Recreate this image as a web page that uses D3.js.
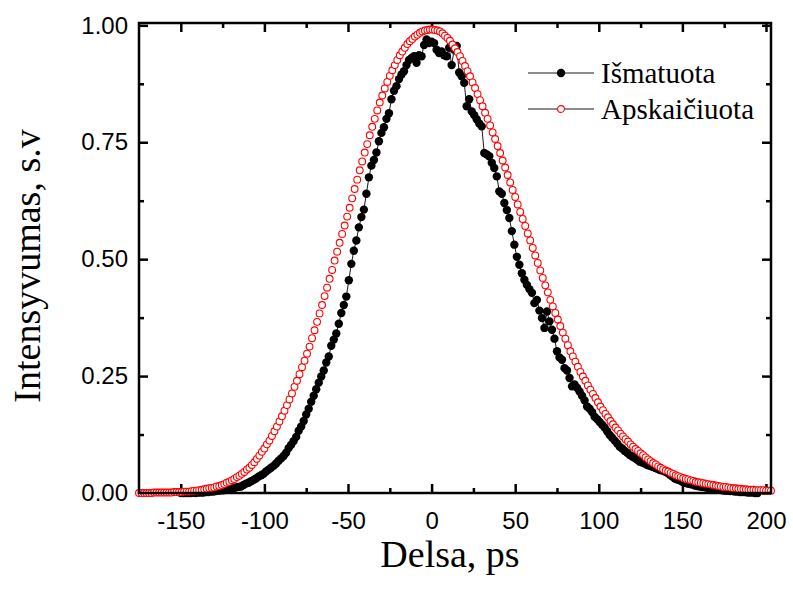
<!DOCTYPE html>
<meta charset="utf-8">
<style>
    body { margin: 0; background: #fff; }
    .axis text {
        font: 24px "Liberation Sans", Arial, sans-serif;
        fill: #000;
    }
    .axis line { stroke: #000; stroke-width: 2.5; }
    .axis path { display: none; }
    .title {
        font: 38px "Liberation Serif", "Times New Roman", serif;
        fill: #000;
    }
    .legend text {
        font: 29px "Liberation Serif", "Times New Roman", serif;
        fill: #000;
    }
</style>
<body></body>
<script src="https://cdn.jsdelivr.net/npm/d3@7/dist/d3.min.js"></script>
<script>
    // Apskaiciuota (calculated) - x grid starts at -175 ps, step 1.5 ps
    var calcStart = -175, calcStep = 1.5;
    var apskaiciuota = [
        0.000,0.000,0.000,0.000, 0.000,0.000,0.001,0.001, 0.001,0.001,0.001,0.001,
        0.001,0.001,0.002,0.002, 0.002,0.002,0.003,0.003, 0.003,0.004,0.005,0.005,
        0.006,0.007,0.008,0.009, 0.010,0.011,0.012,0.014, 0.015,0.017,0.019,0.022,
        0.024,0.027,0.030,0.034, 0.037,0.041,0.045,0.050, 0.054,0.060,0.066,0.073,
        0.080,0.088,0.095,0.104, 0.112,0.122,0.132,0.142, 0.153,0.164,0.176,0.188,
        0.200,0.213,0.227,0.240, 0.254,0.269,0.283,0.298, 0.313,0.331,0.348,0.366,
        0.384,0.402,0.421,0.439, 0.458,0.477,0.497,0.516, 0.535,0.554,0.572,0.591,
        0.610,0.630,0.650,0.670, 0.690,0.709,0.728,0.746, 0.765,0.783,0.800,0.818,
        0.835,0.850,0.865,0.879, 0.892,0.904,0.915,0.926, 0.936,0.944,0.952,0.960,
        0.966,0.971,0.976,0.980, 0.984,0.987,0.989,0.990, 0.991,0.991,0.990,0.989,
        0.987,0.983,0.978,0.973, 0.967,0.959,0.951,0.943, 0.934,0.924,0.913,0.902,
        0.891,0.878,0.866,0.853, 0.840,0.827,0.813,0.800, 0.786,0.771,0.757,0.742,
        0.727,0.711,0.696,0.680, 0.664,0.648,0.633,0.617, 0.601,0.586,0.571,0.555,
        0.540,0.524,0.508,0.492, 0.476,0.460,0.444,0.429, 0.413,0.399,0.385,0.371,
        0.357,0.343,0.330,0.316, 0.303,0.292,0.281,0.270, 0.259,0.249,0.240,0.230,
        0.221,0.212,0.203,0.194, 0.185,0.177,0.169,0.162, 0.154,0.147,0.140,0.134,
        0.127,0.121,0.115,0.110, 0.104,0.099,0.094,0.090, 0.085,0.081,0.076,0.072,
        0.068,0.064,0.061,0.057, 0.054,0.051,0.048,0.046, 0.043,0.041,0.038,0.036,
        0.034,0.032,0.030,0.029, 0.027,0.026,0.024,0.023, 0.022,0.021,0.020,0.019,
        0.018,0.017,0.016,0.015, 0.014,0.013,0.013,0.012, 0.011,0.010,0.010,0.009,
        0.009,0.008,0.008,0.007, 0.007,0.007,0.006,0.006, 0.006,0.006,0.005,0.005,
        0.005
    ];

    // Ismatuota (measured) - x grid starts at -150 ps, step 1.5 ps
    var measStart = -150, measStep = 1.5;
    var ismatuota = [
        0.000,0.000,0.000,0.000, 0.000,0.001,0.000,0.001, 0.001,0.001,0.002,0.002,
        0.003,0.003,0.004,0.005, 0.006,0.006,0.007,0.008, 0.009,0.010,0.012,0.013,
        0.014,0.017,0.020,0.022, 0.025,0.028,0.031,0.035, 0.038,0.041,0.046,0.050,
        0.054,0.058,0.063,0.069, 0.074,0.079,0.086,0.096, 0.103,0.111,0.120,0.133,
        0.142,0.154,0.168,0.180, 0.195,0.208,0.222,0.236, 0.249,0.262,0.279,0.292,
        0.315,0.328,0.341,0.362, 0.385,0.402,0.420,0.455, 0.490,0.518,0.540,0.568,
        0.590,0.606,0.640,0.675, 0.700,0.712,0.728,0.752, 0.770,0.782,0.800,0.812,
        0.842,0.860,0.870,0.885, 0.895,0.902,0.915,0.926, 0.930,0.934,0.920,0.936,
        0.934,0.958,0.970,0.962, 0.965,0.962,0.948,0.941, 0.944,0.936,0.934,0.952,
        0.915,0.948,0.956,0.899, 0.891,0.877,0.827,0.842, 0.816,0.808,0.799,0.790,
        0.784,0.727,0.724,0.720, 0.706,0.695,0.677,0.645, 0.640,0.620,0.605,0.588,
        0.560,0.531,0.505,0.488, 0.470,0.456,0.445,0.436, 0.428,0.406,0.413,0.390,
        0.374,0.353,0.388,0.367, 0.349,0.330,0.303,0.290, 0.285,0.267,0.262,0.246,
        0.228,0.232,0.225,0.217, 0.208,0.198,0.185,0.180, 0.173,0.163,0.158,0.152,
        0.146,0.140,0.132,0.124, 0.118,0.112,0.106,0.099, 0.095,0.090,0.086,0.081,
        0.078,0.075,0.071,0.067, 0.065,0.063,0.060,0.058, 0.056,0.054,0.052,0.049,
        0.048,0.046,0.043,0.039, 0.035,0.031,0.029,0.027, 0.024,0.022,0.020,0.019,
        0.018,0.016,0.015,0.014, 0.013,0.012,0.011,0.010, 0.009,0.008,0.007,0.007,
        0.006,0.005,0.005,0.004, 0.004,0.003,0.003,0.002, 0.002,0.002,0.001,0.001,
        0.001,0.000,0.000
    ];

    var xMajor = [-150, -100, -50, 0, 50, 100, 150, 200];
    var xMinor = [-125, -75, -25, 25, 75, 125, 175];
    var yMajor = [0, 0.25, 0.5, 0.75, 1.0];
    var yMinor = [0.125, 0.375, 0.625, 0.875];

    var seriesNames = ["Išmatuota", "Apskaičiuota"];
    var xTitle = "Delsa, ps";
    var yTitle = "Intensyvumas, s.v";

    var width = 793, height = 592;
    var plotLeft = 139, plotRight = 771, plotTop = 23, plotBottom = 493;
    var dotR = 4.2, ringR = 3.4;

    var x = d3.scaleLinear().domain([-175, 203]).range([plotLeft, plotRight]);
    var y = d3.scaleLinear().domain([0, 1.005]).range([plotBottom, plotTop]);

    var svg = d3.select("body").append("svg")
        .attr("width", width)
        .attr("height", height);

    function toPoints(start, step, values) {
        return values.map(function (v, i) { return { x: start + i * step, y: v }; });
    }
    var meas = toPoints(measStart, measStep, ismatuota);
    var calc = toPoints(calcStart, calcStep, apskaiciuota);

    // plain hyphen for negatives, like the original
    var fmtX = function (d) { return String(d); };

    // axes: ticks point inward on all four sides
    svg.append("g").attr("class", "axis")
        .attr("transform", "translate(0," + plotBottom + ")")
        .call(d3.axisBottom(x).tickValues(xMajor).tickSize(-9).tickPadding(19).tickFormat(fmtX));
    svg.append("g").attr("class", "axis")
        .attr("transform", "translate(0," + plotBottom + ")")
        .call(d3.axisBottom(x).tickValues(xMinor).tickSize(-5).tickFormat(""));
    svg.append("g").attr("class", "axis")
        .attr("transform", "translate(0," + plotTop + ")")
        .call(d3.axisTop(x).tickValues(xMajor).tickSize(-9).tickFormat(""));
    svg.append("g").attr("class", "axis")
        .attr("transform", "translate(0," + plotTop + ")")
        .call(d3.axisTop(x).tickValues(xMinor).tickSize(-5).tickFormat(""));

    svg.append("g").attr("class", "axis")
        .attr("transform", "translate(" + plotLeft + ",0)")
        .call(d3.axisLeft(y).tickValues(yMajor).tickSize(-9).tickPadding(11)
            .tickFormat(d3.format(".2f")));
    svg.append("g").attr("class", "axis")
        .attr("transform", "translate(" + plotLeft + ",0)")
        .call(d3.axisLeft(y).tickValues(yMinor).tickSize(-5).tickFormat(""));
    svg.append("g").attr("class", "axis")
        .attr("transform", "translate(" + plotRight + ",0)")
        .call(d3.axisRight(y).tickValues(yMajor).tickSize(-9).tickFormat(""));
    svg.append("g").attr("class", "axis")
        .attr("transform", "translate(" + plotRight + ",0)")
        .call(d3.axisRight(y).tickValues(yMinor).tickSize(-5).tickFormat(""));

    // measured series: thin black line + filled dots
    var line = d3.line()
        .x(function (d) { return x(d.x); })
        .y(function (d) { return y(d.y); });

    svg.append("path")
        .datum(meas)
        .attr("d", line)
        .attr("fill", "none")
        .attr("stroke", "#000")
        .attr("stroke-width", 0.9);

    svg.append("g").selectAll("circle")
        .data(meas)
        .enter().append("circle")
        .attr("cx", function (d) { return x(d.x); })
        .attr("cy", function (d) { return y(d.y); })
        .attr("r", dotR)
        .attr("fill", "#000");

    // calculated series: open red circles
    svg.append("g").selectAll("circle")
        .data(calc)
        .enter().append("circle")
        .attr("cx", function (d) { return x(d.x); })
        .attr("cy", function (d) { return y(d.y); })
        .attr("r", ringR)
        .attr("fill", "#fff")
        .attr("stroke", "#ff0000")
        .attr("stroke-width", 1.1);

    // frame
    svg.append("rect")
        .attr("x", plotLeft).attr("y", plotTop)
        .attr("width", plotRight - plotLeft).attr("height", plotBottom - plotTop)
        .attr("fill", "none")
        .attr("stroke", "#000")
        .attr("stroke-width", 2.5);

    // axis titles
    svg.append("text").attr("class", "title")
        .attr("x", 450).attr("y", 567)
        .attr("text-anchor", "middle")
        .text(xTitle);
    svg.append("text").attr("class", "title")
        .attr("transform", "translate(40,266) rotate(-90)")
        .attr("text-anchor", "middle")
        .text(yTitle);

    // legend
    var legend = svg.append("g").attr("class", "legend");
    var rows = legend.selectAll("g")
        .data(seriesNames)
        .enter().append("g")
        .attr("transform", function (d, i) { return "translate(0," + (73 + i * 36) + ")"; });

    rows.append("line")
        .attr("x1", 528).attr("x2", 594)
        .attr("y1", 0).attr("y2", 0)
        .attr("stroke", "#000")
        .attr("stroke-width", 0.9);

    rows.append("circle")
        .attr("cx", 561).attr("cy", 0)
        .attr("r", function (d, i) { return i === 0 ? dotR : ringR; })
        .attr("fill", function (d, i) { return i === 0 ? "#000" : "#fff"; })
        .attr("stroke", function (d, i) { return i === 0 ? "none" : "#ff0000"; })
        .attr("stroke-width", 1.1);

    rows.append("text")
        .attr("x", 601)
        .attr("y", 10)
        .text(function (d) { return d; });
</script>
